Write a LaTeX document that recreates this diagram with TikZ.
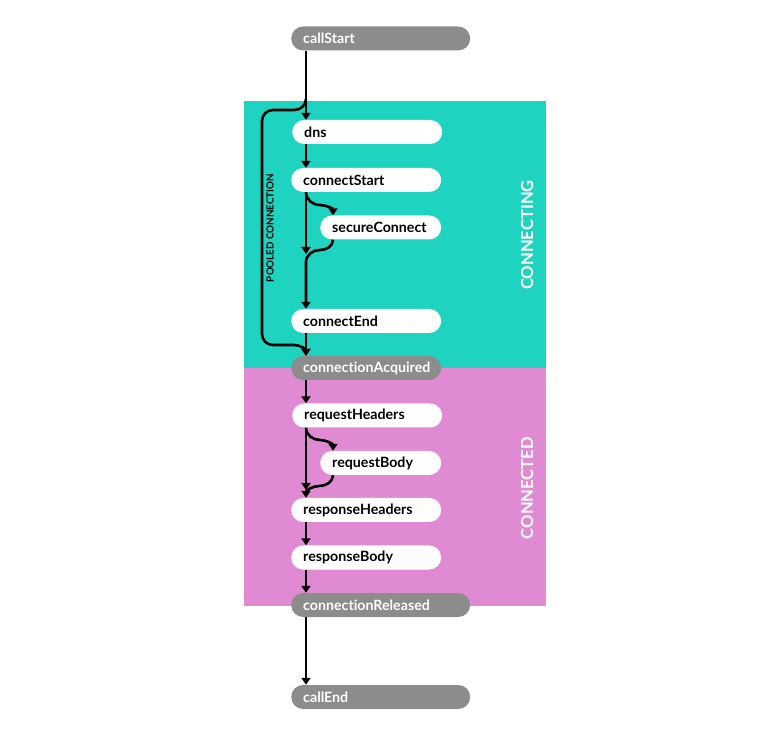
\documentclass[tikz,border=0pt]{standalone}
\usepackage{fontspec}
\setmainfont{Lato}[Ligatures={NoCommon}]
\usetikzlibrary{arrows.meta}
\definecolor{tealbg}{HTML}{1ED3C0}
\definecolor{pinkbg}{HTML}{E18AD4}
\definecolor{pillgray}{HTML}{8C8C8C}
\tikzset{
  pill/.style={anchor=west, rounded corners=12pt, minimum height=24pt, inner xsep=12pt, inner ysep=0pt,
    align=left, font=\bfseries\fontsize{14.2}{16}\selectfont},
  whitepill/.style={pill, fill=white, text=black},
  graypill/.style={pill, fill=pillgray, text=white},
  w150/.style={text width=126pt},
  w179/.style={text width=155pt},
  w121/.style={text width=97pt},
  flow/.style={line width=2.6pt, -{Triangle[width=9pt,length=7pt]}},
  section/.style={rotate=90, text=white, font=\bfseries\fontsize{16.6}{18}\selectfont},
}
\begin{document}
\begin{tikzpicture}[x=1pt,y=-1pt]
\useasboundingbox (0,0) rectangle (764,735);
% backgrounds
\fill[tealbg] (244,101) rectangle (546,368);
\fill[pinkbg] (244,368) rectangle (546,606);
\node[section] (lbl1) at (527,235) {CONNECTING};
\node[section] (lbl2) at (527,488) {CONNECTED};
% nodes
\node[graypill,w179] (callStart) at (291,38.5) {callStart};
\node[whitepill,w150] (dns) at (292,132) {dns};
\node[whitepill,w150] (connectStart) at (291,180) {connectStart};
\node[whitepill,w121] (secureConnect) at (320,227.5) {secureConnect};
\node[whitepill,w150] (connectEnd) at (291,321) {connectEnd};
\node[graypill,w150] (connectionAcquired) at (291,368) {connectionAcquired};
\node[whitepill,w150] (requestHeaders) at (292,415.5) {requestHeaders};
\node[whitepill,w121] (requestBody) at (320,463) {requestBody};
\node[whitepill,w150] (responseHeaders) at (291,510) {responseHeaders};
\node[whitepill,w150] (responseBody) at (291,557.5) {responseBody};
\node[graypill,w179] (connectionReleased) at (291,605) {connectionReleased};
\node[graypill,w179] (callEnd) at (291,697) {callEnd};
% helper coordinates
\coordinate (x0) at (306,0);
\coordinate (mergeA) at (306,254);
\coordinate (mergeB) at (306,490);
\coordinate (branch) at (306,99);
% main flow
\draw[flow] (callStart.south -| x0) -- (dns.north -| x0);
\draw[flow] (dns.south -| x0) -- (connectStart.north -| x0);
\draw[flow] (connectStart.south -| x0) -- (mergeA);
\draw[flow] (connectStart.south -| x0) to[out=-90,in=180] (320,205) to[out=0,in=90] (secureConnect.north west -| 333,0);
\draw[flow] (secureConnect.south west -| 333,0) to[out=-90,in=0] (320,250) to[out=180,in=90] (306,262) -- (connectEnd.north -| x0);
\draw[flow] (connectEnd.south -| x0) -- (connectionAcquired.north -| x0);
\draw[flow] (connectionAcquired.south -| x0) -- (requestHeaders.north -| x0);
\draw[flow] (requestHeaders.south -| x0) to[out=-90,in=180] (320,440) to[out=0,in=90] (requestBody.north west -| 333,0);
\draw[flow] (requestHeaders.south -| x0) -- (mergeB);
\draw[flow] (requestBody.south west -| 333,0) to[out=-90,in=0] (319,486) to[out=180,in=90] (responseHeaders.north -| x0);
\draw[flow] (responseHeaders.south -| x0) -- (responseBody.north -| x0);
\draw[flow] (responseBody.south -| x0) -- (connectionReleased.north -| x0);
\draw[flow] (connectionReleased.south -| x0) -- (callEnd.north -| x0);
% pooled connection
\draw[flow] (branch) to[out=-90,in=0] (294,110) -- (273,110) to[out=180,in=90] (262,121) -- (262,334) to[out=-90,in=180] (273,345) -- (294,345) to[out=0,in=90] (connectionAcquired.north -| x0);
\node[rotate=90, font=\bfseries\fontsize{9.8}{11}\selectfont] (pooled) at (270,228) {POOLED CONNECTION};
\end{tikzpicture}
\end{document}
